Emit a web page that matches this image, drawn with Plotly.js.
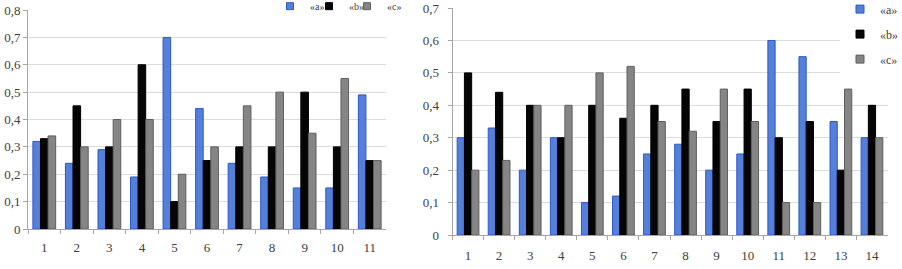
<!DOCTYPE html>
<html>
<head>
<meta charset="utf-8">
<script src="https://cdn.plot.ly/plotly-3.0.1.min.js"></script>
<style>html,body{margin:0;padding:0;background:#fff;}#chart{width:902px;height:269px;}</style>
</head>
<body>
<div id="chart"></div>
<script>
// Left chart
const catsLeft = ["1","2","3","4","5","6","7","8","9","10","11"];
const leftA = [0.32, 0.24, 0.29, 0.19, 0.70, 0.44, 0.24, 0.19, 0.15, 0.15, 0.49];
const leftB = [0.33, 0.45, 0.30, 0.60, 0.10, 0.25, 0.30, 0.30, 0.50, 0.30, 0.25];
const leftC = [0.34, 0.30, 0.40, 0.40, 0.20, 0.30, 0.45, 0.50, 0.35, 0.55, 0.25];
// Right chart
const catsRight = ["1","2","3","4","5","6","7","8","9","10","11","12","13","14"];
const rightA = [0.30, 0.33, 0.20, 0.30, 0.10, 0.12, 0.25, 0.28, 0.20, 0.25, 0.60, 0.55, 0.35, 0.30];
const rightB = [0.50, 0.44, 0.40, 0.30, 0.40, 0.36, 0.40, 0.45, 0.35, 0.45, 0.30, 0.35, 0.20, 0.40];
const rightC = [0.20, 0.23, 0.40, 0.40, 0.50, 0.52, 0.35, 0.32, 0.45, 0.35, 0.10, 0.10, 0.45, 0.30];
const seriesNames = ["«a»", "«b»", "«c»"];

const fillCols = ["#5580da", "#050505", "#858585"];
const edgeCols = ["#2c58c8", "#000000", "#5e5e5e"];
const mk = i => ({color: fillCols[i], line: {color: edgeCols[i], width: 1}});

const traces = [
  {type: "bar", x: catsLeft, y: leftA, name: seriesNames[0], marker: mk(0), xaxis: "x", yaxis: "y", showlegend: false},
  {type: "bar", x: catsLeft, y: leftB, name: seriesNames[1], marker: mk(1), xaxis: "x", yaxis: "y", showlegend: false},
  {type: "bar", x: catsLeft, y: leftC, name: seriesNames[2], marker: mk(2), xaxis: "x", yaxis: "y", showlegend: false},
  {type: "bar", x: catsRight, y: rightA, name: seriesNames[0], marker: mk(0), xaxis: "x2", yaxis: "y2", showlegend: false},
  {type: "bar", x: catsRight, y: rightB, name: seriesNames[1], marker: mk(1), xaxis: "x2", yaxis: "y2", showlegend: false},
  {type: "bar", x: catsRight, y: rightC, name: seriesNames[2], marker: mk(2), xaxis: "x2", yaxis: "y2", showlegend: false}
];
// legend entries (small square keys, as in the reference)
const leftLegends = ["legend", "legend3", "legend4"];
seriesNames.forEach((nm, i) => {
  traces.push({type: "scatter", mode: "markers", x: [null], y: [null], name: nm, xaxis: "x", yaxis: "y",
    marker: {symbol: "square", size: 7, color: fillCols[i], line: {color: edgeCols[i], width: 1}},
    legend: leftLegends[i], showlegend: true, hoverinfo: "skip"});
});
seriesNames.forEach((nm, i) => {
  traces.push({type: "scatter", mode: "markers", x: [null], y: [null], name: nm, xaxis: "x2", yaxis: "y2",
    marker: {symbol: "square", size: 8, color: fillCols[i], line: {color: edgeCols[i], width: 1}},
    legend: "legend2", legendgroup: "r" + i, showlegend: true, hoverinfo: "skip"});
});

const serif = "'Times New Roman', 'Liberation Serif', serif";
const tickFont = {family: serif, size: 13, color: "#404040"};
const legFontS = {family: serif, size: 10, color: "#404040"};
const legFontL = {family: serif, size: 12, color: "#404040"};

const xBase = {
  type: "category", showgrid: false, showline: true, linecolor: "#a6a6a6", linewidth: 1,
  ticks: "outside", tickson: "boundaries", ticklen: 4, tickcolor: "#a6a6a6",
  tickfont: tickFont, zeroline: false, fixedrange: true
};
const yBase = {
  showgrid: true, gridcolor: "#dcdcdc", gridwidth: 1, showline: true, linecolor: "#a6a6a6",
  ticks: "outside", ticklen: 4, tickcolor: "#a6a6a6", tickfont: tickFont, dtick: 0.1, tick0: 0,
  zeroline: false, fixedrange: true, ticklabeloverflow: "allow"
};

const layout = {
  width: 902, height: 269,
  margin: {l: 0, r: 0, t: 0, b: 0, autoexpand: false},
  paper_bgcolor: "#ffffff", plot_bgcolor: "rgba(0,0,0,0)",
  separators: ", ",
  showlegend: true,
  barmode: "group", bargap: 0.3, bargroupgap: 0,
  font: tickFont,
  xaxis: Object.assign({}, xBase, {domain: [28/902, 386/902], anchor: "y", ticklabelstandoff: 6}),
  yaxis: Object.assign({}, yBase, {domain: [1 - 229/269, 1 - 10/269], range: [0, 0.8001], anchor: "x"}),
  xaxis2: Object.assign({}, xBase, {domain: [452.5/902, 887.5/902], anchor: "y2", ticklabelstandoff: 8}),
  yaxis2: Object.assign({}, yBase, {domain: [1 - 235/269, 1 - 8/269], range: [0, 0.7001], anchor: "x2", ticklabelstandoff: 6}),
  legend: {x: 270/902, y: 1.031, xanchor: "left", yanchor: "top", orientation: "h", font: legFontS, bgcolor: "rgba(255,255,255,0)", itemwidth: 30},
  legend3: {x: 309/902, y: 1.031, xanchor: "left", yanchor: "top", orientation: "h", font: legFontS, bgcolor: "rgba(255,255,255,0)", itemwidth: 30},
  legend4: {x: 347/902, y: 1.031, xanchor: "left", yanchor: "top", orientation: "h", font: legFontS, bgcolor: "rgba(255,255,255,0)", itemwidth: 30},
  legend2: {x: 840/902, y: 1.02, xanchor: "left", yanchor: "top", orientation: "v", font: legFontL, bgcolor: "#ffffff", itemwidth: 30, traceorder: "grouped", tracegroupgap: 6}
};

Plotly.newPlot("chart", traces, layout, {displayModeBar: false, staticPlot: true});
</script>
</body>
</html>
